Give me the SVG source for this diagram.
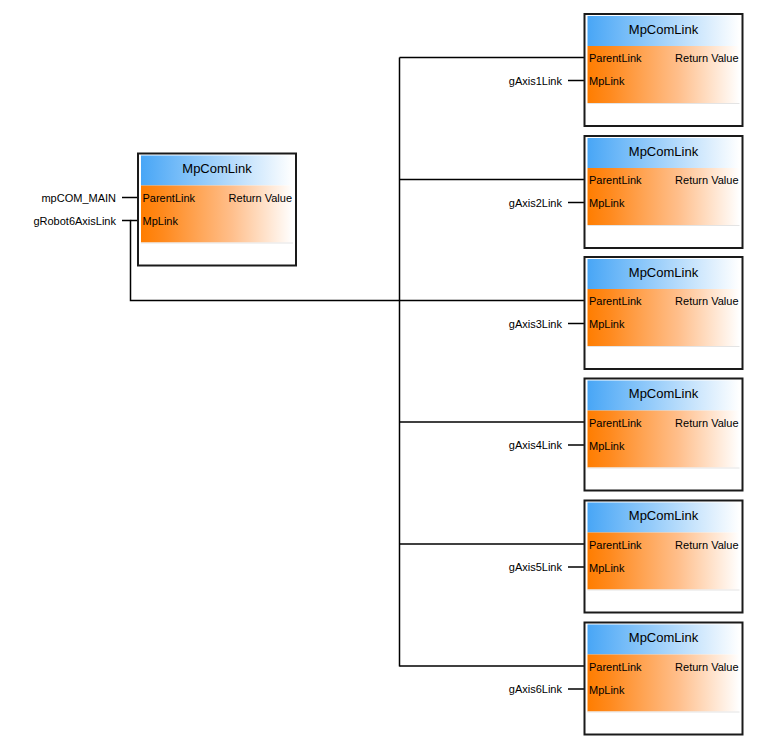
<svg xmlns="http://www.w3.org/2000/svg" width="767" height="752" viewBox="0 0 767 752">
<defs>
<linearGradient id="gBlue" x1="0" y1="0" x2="1" y2="0">
<stop offset="0" stop-color="#48a6f6"/>
<stop offset="1" stop-color="#ffffff"/>
</linearGradient>
<linearGradient id="gOrange" x1="0" y1="0" x2="1" y2="0">
<stop offset="0" stop-color="#ff7d00"/>
<stop offset="0.15" stop-color="#ff8a1e"/>
<stop offset="0.6" stop-color="#ffbf8c"/>
<stop offset="1" stop-color="#ffffff"/>
</linearGradient>
<g id="box">
<rect x="0" y="0" width="158" height="112" fill="#ffffff" stroke="#1a1a1a" stroke-width="2"/>
<rect x="3" y="2" width="152" height="30" fill="url(#gBlue)"/>
<rect x="3" y="32" width="152" height="57" fill="url(#gOrange)"/>
<line x1="3" y1="89.5" x2="155" y2="89.5" stroke="#e4e4e4" stroke-width="1"/>
<text x="79" y="19.5" class="title">MpComLink</text>
<text x="4.5" y="48" class="port">ParentLink</text>
<text x="154" y="48" class="port" text-anchor="end">Return Value</text>
<text x="4.5" y="71" class="port">MpLink</text>
</g>
</defs>
<style>
text{font-family:"Liberation Sans",Arial,sans-serif;fill:#000}
.title{font-size:13px;text-anchor:middle}
.port{font-size:11px}
.lbl{font-size:11px;text-anchor:end}
.wire{stroke:#000;stroke-width:1.5;fill:none}
</style>
<rect width="767" height="752" fill="#ffffff"/>
<g id="connectors">
<line class="wire" x1="122" y1="197.5" x2="138" y2="197.5"/>
<polyline class="wire" points="122,220.5 130.5,220.5 130.5,300.5 584,300.5"/>
<line class="wire" x1="130.5" y1="220.5" x2="138" y2="220.5"/>
<line class="wire" x1="399.5" y1="57.5" x2="399.5" y2="666.5"/>
<line class="wire" x1="399.5" y1="57.5" x2="584" y2="57.5"/>
<line class="wire" x1="399.5" y1="179.5" x2="584" y2="179.5"/>
<line class="wire" x1="399.5" y1="422" x2="584" y2="422"/>
<line class="wire" x1="399.5" y1="544" x2="584" y2="544"/>
<line class="wire" x1="399.5" y1="666" x2="584" y2="666"/>
<line class="wire" x1="568" y1="80.5" x2="584" y2="80.5"/>
<line class="wire" x1="568" y1="202.5" x2="584" y2="202.5"/>
<line class="wire" x1="568" y1="323.5" x2="584" y2="323.5"/>
<line class="wire" x1="568" y1="445" x2="584" y2="445"/>
<line class="wire" x1="568" y1="567" x2="584" y2="567"/>
<line class="wire" x1="568" y1="689" x2="584" y2="689"/>
</g>
<g id="main"><use href="#box" x="138" y="153.5"/></g>
<text class="lbl" x="116" y="201.5">mpCOM_MAIN</text>
<text class="lbl" x="116" y="225">gRobot6AxisLink</text>
<g id="axis1"><use href="#box" x="584.5" y="14"/><text class="lbl" x="562" y="84.5">gAxis1Link</text></g>
<g id="axis2"><use href="#box" x="584.5" y="136"/><text class="lbl" x="562" y="206.5">gAxis2Link</text></g>
<g id="axis3"><use href="#box" x="584.5" y="257"/><text class="lbl" x="562" y="327.5">gAxis3Link</text></g>
<g id="axis4"><use href="#box" x="584.5" y="378.5"/><text class="lbl" x="562" y="449">gAxis4Link</text></g>
<g id="axis5"><use href="#box" x="584.5" y="500.5"/><text class="lbl" x="562" y="571">gAxis5Link</text></g>
<g id="axis6"><use href="#box" x="584.5" y="622.5"/><text class="lbl" x="562" y="693">gAxis6Link</text></g>
</svg>
